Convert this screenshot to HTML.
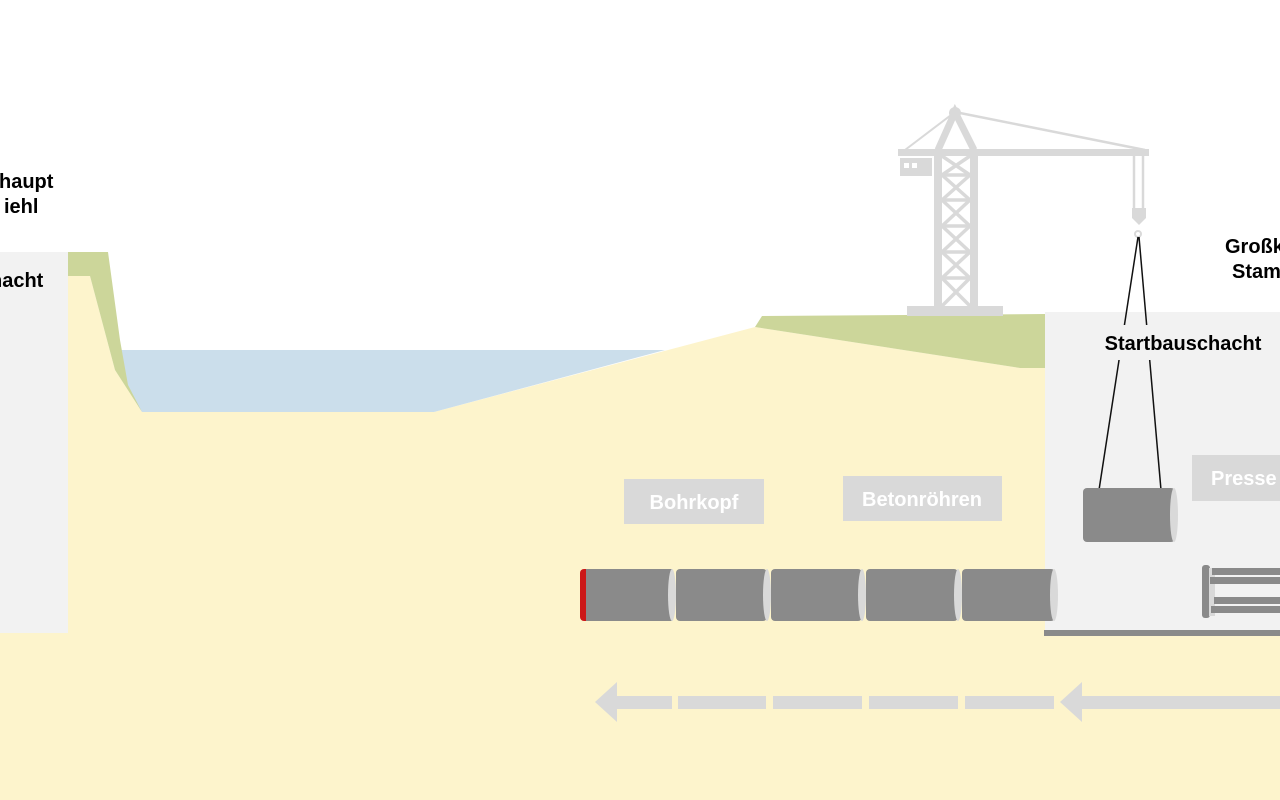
<!DOCTYPE html>
<html><head><meta charset="utf-8"><style>
html,body{margin:0;padding:0;background:#fff;width:1280px;height:800px;overflow:hidden}
svg{display:block}
text{font-family:"Liberation Sans",Arial,sans-serif;font-weight:bold}
</style></head><body>
<svg width="1280" height="800" viewBox="0 0 1280 800">
<rect width="1280" height="800" fill="#fff"/>
<polygon points="66,276 90,276 115,370 142,412 434,412 755,327 1020,368 1045,368 1045,312 1280,312 1280,800 0,800 0,633 66,633" fill="#fdf4cc"/>
<polygon points="120,350 665,350 434,412 142,412 125,385" fill="#cbdeeb"/>
<polygon points="66,252 108,252 120,340 128,385 142,412 115,370 90,276 66,276" fill="#ccd69a"/>
<polygon points="762,316 1046,314 1046,368 1020,368 755,327" fill="#ccd69a"/>
<rect x="0" y="252" width="68" height="381" fill="#f2f2f2"/>
<rect x="1045" y="312" width="235" height="320" fill="#f2f2f2"/>
<rect x="1044" y="630" width="236" height="6" fill="#8a8a8a"/>
<g fill="#d9d9d9" stroke="#d9d9d9">
<rect x="898" y="149" width="251" height="7" stroke="none"/>
<rect x="900" y="158" width="32" height="18" stroke="none"/>
<rect x="934" y="150" width="8" height="158" stroke="none"/>
<rect x="970" y="150" width="8" height="158" stroke="none"/>
<rect x="907" y="306" width="96" height="10" stroke="none"/>
<g stroke-width="3.5" fill="none">
<line x1="942" y1="175" x2="970" y2="175"/><line x1="942" y1="200" x2="970" y2="200"/><line x1="942" y1="226" x2="970" y2="226"/><line x1="942" y1="252" x2="970" y2="252"/><line x1="942" y1="278" x2="970" y2="278"/>
<path d="M942 156 L970 175 M970 156 L942 175 M942 175 L970 200 M970 175 L942 200 M942 200 L970 226 M970 200 L942 226 M942 226 L970 252 M970 226 L942 252 M942 252 L970 278 M970 252 L942 278 M942 278 L970 306 M970 278 L942 306"/>
<path d="M938 150 L955 112 L974 150" stroke-width="7"/>
<line x1="955" y1="112" x2="905" y2="150" stroke-width="2"/>
<line x1="955" y1="112" x2="1145" y2="150" stroke-width="2.5"/>
<line x1="1134" y1="156" x2="1134" y2="210" stroke-width="2.5"/>
<line x1="1143" y1="156" x2="1143" y2="210" stroke-width="2.5"/>
<circle cx="1138" cy="234" r="3" stroke-width="2"/>
</g>
<circle cx="955" cy="113" r="6" stroke="none"/>
<polygon points="1132,208 1146,208 1146,218 1139,225 1132,218" stroke="none"/>
</g>
<rect x="904" y="163" width="5" height="5" fill="#fff"/><rect x="912" y="163" width="5" height="5" fill="#fff"/>
<g stroke="#111" stroke-width="1.5">
<line x1="1138" y1="237" x2="1099" y2="490"/><line x1="1139" y1="237" x2="1161" y2="490"/>
</g>
<rect x="1100" y="325" width="62" height="35" fill="#f2f2f2"/>
<rect x="1083" y="488" width="92" height="54" rx="4" fill="#8a8a8a"/>
<ellipse cx="1174" cy="515" rx="4" ry="27" fill="#d9d9d9"/>
<rect x="580" y="569" width="12" height="52" rx="4" fill="#cc1818"/>
<g fill="#8a8a8a">
<rect x="586" y="569" width="86" height="52"/>
<rect x="676" y="569" width="91" height="52" rx="4"/>
<rect x="771" y="569" width="91" height="52" rx="4"/>
<rect x="866" y="569" width="92" height="52" rx="4"/>
<rect x="962" y="569" width="93" height="52" rx="4"/>
</g>
<g fill="#d9d9d9">
<ellipse cx="672" cy="595" rx="4" ry="26"/>
<ellipse cx="767" cy="595" rx="4" ry="26"/>
<ellipse cx="862" cy="595" rx="4" ry="26"/>
<ellipse cx="958" cy="595" rx="4" ry="26"/>
<ellipse cx="1054" cy="595" rx="4" ry="26"/>
</g>
<rect x="1202" y="565" width="8" height="53" rx="3" fill="#8a8a8a"/>
<rect x="1209" y="568" width="6" height="48" fill="#d9d9d9"/>
<g fill="#8a8a8a">
<rect x="1212" y="568" width="68" height="7"/><rect x="1210" y="577" width="70" height="7"/>
<rect x="1214" y="597" width="66" height="7"/><rect x="1211" y="606" width="69" height="7"/>
</g>
<g fill="#d9d9d9">
<polygon points="595,702 617,682 617,722"/>
<rect x="615" y="696" width="57" height="13"/>
<rect x="678" y="696" width="88" height="13"/>
<rect x="773" y="696" width="89" height="13"/>
<rect x="869" y="696" width="89" height="13"/>
<rect x="965" y="696" width="89" height="13"/>
<polygon points="1060,702 1082,682 1082,722"/>
<rect x="1080" y="696" width="200" height="13"/>
</g>
<g fill="#d9d9d9">
<rect x="624" y="479" width="140" height="45"/>
<rect x="843" y="476" width="159" height="45"/>
<rect x="1192" y="455" width="88" height="46"/>
</g>
<g fill="#fff" font-size="20">
<text x="694" y="509" text-anchor="middle">Bohrkopf</text>
<text x="922" y="506" text-anchor="middle">Betonröhren</text>
<text x="1211" y="485">Presse</text>
</g>
<g fill="#000" font-size="20">
<text x="1183" y="350" text-anchor="middle">Startbauschacht</text>
<text x="1225" y="253">Großk</text>
<text x="1232" y="278">Stam</text>
<text x="-1" y="188">haupt</text>
<text x="4" y="213">iehl</text>
<text x="-10" y="287">nacht</text>
</g>
</svg>
</body></html>
